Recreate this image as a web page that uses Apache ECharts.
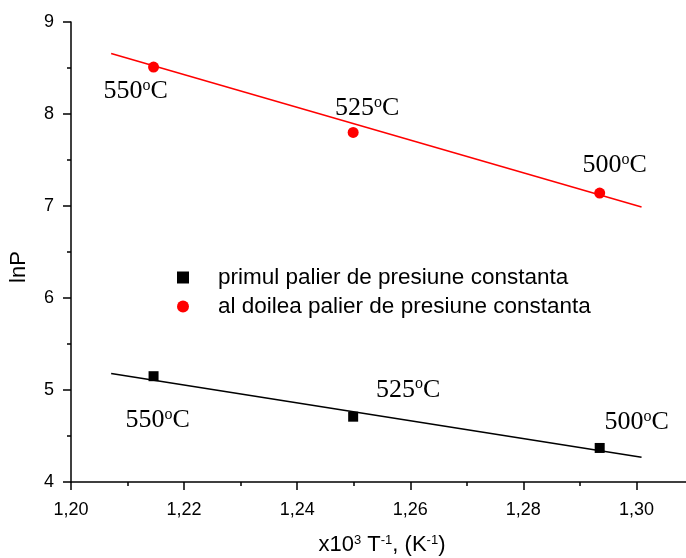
<!doctype html>
<html lang="en">
<head>
<meta charset="utf-8">
<title>lnP vs 1/T</title>
<style>
    html, body { margin: 0; padding: 0; background: #fff; }
    #chart { width: 686px; height: 558px; }
</style>
</head>
<body>
<div id="chart"></div>
<script src="https://cdn.jsdelivr.net/npm/echarts@6/dist/echarts.min.js"></script>
<script>
    // data
    var seriesNames = ['primul palier de presiune constanta', 'al doilea palier de presiune constanta'];
    var invT = [1.2146, 1.2499, 1.2935];
    var temps = ['550', '525', '500'];
    var lnP1 = [5.15, 4.71, 4.37];
    var lnP2 = [8.51, 7.80, 7.14];
    var fitX = [1.2071, 1.3009];
    var fit1 = [5.18, 4.27];
    var fit2 = [8.657, 6.99];

    // where each temperature label sits relative to its point
    var offs1 = [[4, 44], [55, -27], [37, -26]];
    var offs2 = [[-18, 24], [14, -24], [15, -28]];

    var sans = 'Liberation Sans, Arial, sans-serif';
    var serif = 'Liberation Serif, Times New Roman, serif';

    function points(ys, offs) {
        return invT.map(function (x, i) {
            return { value: [x, ys[i]], label: { offset: offs[i] }, temp: temps[i] };
        });
    }
    function fitLine(ys) {
        return fitX.map(function (x, i) { return [x, ys[i]]; });
    }

    var tempLabel = {
        show: true,
        position: 'inside',
        color: '#000',
        opacity: 1,
        formatter: function (p) { return '{n|' + p.data.temp + '}{s|o}{n|C}'; },
        rich: {
            n: { fontFamily: serif, fontSize: 26, color: '#000' },
            s: { fontFamily: serif, fontSize: 16, color: '#000', verticalAlign: 'bottom', padding: [0, 0, 11, 0] }
        }
    };

    var chart = echarts.init(document.getElementById('chart'));
    chart.setOption({
        backgroundColor: '#fff',
        animation: false,
        grid: { left: 71, top: 22, bottom: 76, right: -7, outerBoundsMode: 'none' },
        legend: {
            data: [
                { name: seriesNames[0], icon: 'rect' },
                { name: seriesNames[1], icon: 'circle' }
            ],
            orient: 'vertical',
            left: 172,
            top: 261,
            itemWidth: 12,
            itemHeight: 12,
            itemGap: 6,
            textStyle: { fontFamily: sans, fontSize: 22.5, lineHeight: 23, color: '#000', padding: [0, 0, 0, 24] }
        },
        xAxis: {
            type: 'value',
            min: 1.20,
            max: 1.31,
            interval: 0.02,
            name: '{a|x10}{s|3}{a| T}{s|-1}{a|, (K}{s|-1}{a|)}',
            nameLocation: 'middle',
            nameGap: 52,
            nameTextStyle: {
                rich: {
                    a: { fontFamily: sans, fontSize: 22, color: '#000' },
                    s: { fontFamily: sans, fontSize: 13, color: '#000', verticalAlign: 'bottom', padding: [0, 0, 9, 0] }
                }
            },
            axisLine: { lineStyle: { color: '#000', width: 1.5 } },
            axisTick: { inside: false, length: 8, lineStyle: { color: '#000', width: 1.5 } },
            minorTick: { show: true, splitNumber: 2, length: 4, lineStyle: { color: '#000', width: 1.5 } },
            splitLine: { show: false },
            axisLabel: {
                margin: 19,
                showMaxLabel: false,
                fontFamily: sans,
                fontSize: 18,
                color: '#000',
                formatter: function (v) { return v.toFixed(2).replace('.', ','); }
            }
        },
        yAxis: {
            type: 'value',
            min: 4,
            max: 9,
            interval: 1,
            axisLine: { show: true, lineStyle: { color: '#000', width: 1.5 } },
            axisTick: { show: true, length: 8, lineStyle: { color: '#000', width: 1.5 } },
            minorTick: { show: true, splitNumber: 2, length: 4, lineStyle: { color: '#000', width: 1.5 } },
            splitLine: { show: false },
            axisLabel: { margin: 17, fontFamily: sans, fontSize: 18, color: '#000' }
        },
        graphic: [{
            type: 'text',
            x: 19,
            y: 267,
            rotation: Math.PI / 2,
            style: {
                text: 'lnP',
                font: '22px ' + sans,
                fill: '#000',
                align: 'center',
                verticalAlign: 'middle'
            }
        }],
        series: [
            {
                type: 'line',
                data: fitLine(fit1),
                symbol: 'none',
                silent: true,
                lineStyle: { color: '#000', width: 1.5 },
                z: 1
            },
            {
                type: 'line',
                data: fitLine(fit2),
                symbol: 'none',
                silent: true,
                lineStyle: { color: '#ff0000', width: 1.5 },
                z: 1
            },
            {
                name: seriesNames[0],
                type: 'scatter',
                symbol: 'rect',
                symbolSize: 10,
                itemStyle: { color: '#000', opacity: 1 },
                label: tempLabel,
                data: points(lnP1, offs1),
                z: 3
            },
            {
                name: seriesNames[1],
                type: 'scatter',
                symbol: 'circle',
                symbolSize: 11,
                itemStyle: { color: '#ff0000', opacity: 1 },
                label: tempLabel,
                data: points(lnP2, offs2),
                z: 3
            }
        ]
    });
</script>
</body>
</html>
